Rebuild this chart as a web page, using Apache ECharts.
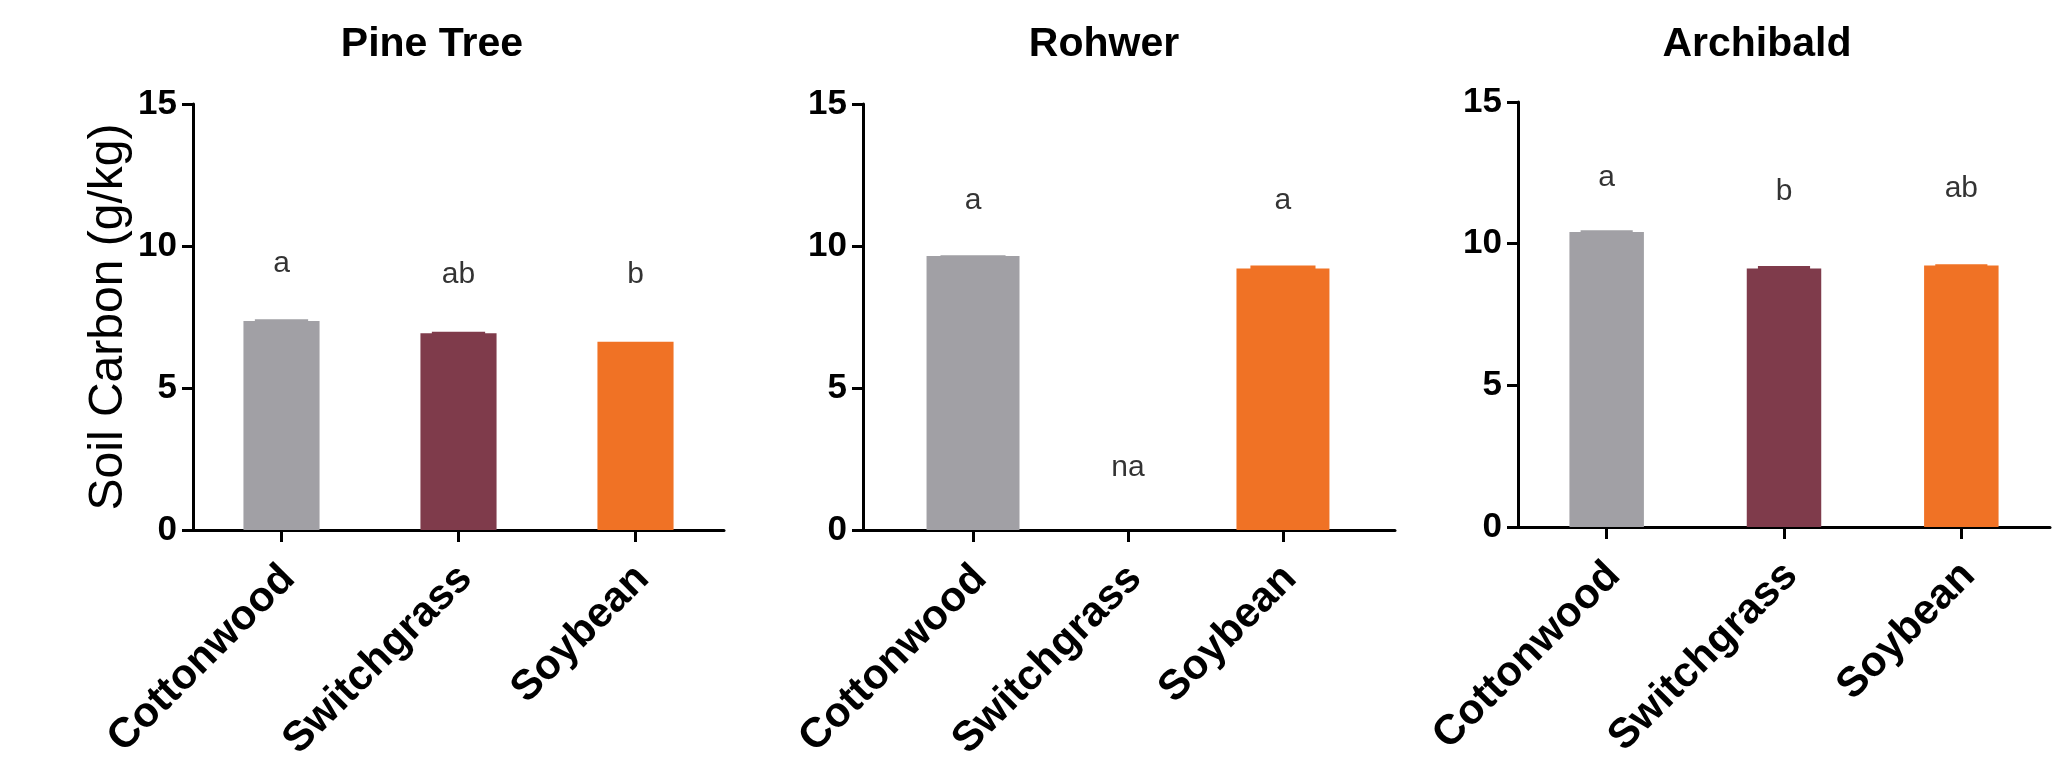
<!DOCTYPE html>
<html>
<head>
<meta charset="utf-8">
<script src="https://cdn.jsdelivr.net/npm/echarts@6/dist/echarts.min.js"></script>
<style>
html,body{margin:0;padding:0;background:#fff;}
#chart{width:2064px;height:766px;}
</style>
</head>
<body>
<div id="chart"></div>
<script>
// ---- data ----
const categories = ['Cottonwood', 'Switchgrass', 'Soybean'];
const siteNames = ['Pine Tree', 'Rohwer', 'Archibald'];
const yAxisTitle = 'Soil Carbon (g/kg)';
const yTickLabels = ['0', '5', '10', '15'];

const pineTreeValues = [7.36, 6.93, 6.63];
const pineTreeErr = [0.06, 0.05, 0];
const pineTreeLetters = ['a', 'ab', 'b'];
const pineTreeLetterY = [9.36, 8.98, 8.98];

const rohwerValues = [9.65, null, 9.21];
const rohwerErr = [0.02, null, 0.1];
const rohwerLetters = ['a', 'na', 'a'];
const rohwerLetterY = [11.58, 2.19, 11.58];

const archibaldValues = [10.41, 9.12, 9.23];
const archibaldErr = [0.06, 0.09, 0.04];
const archibaldLetters = ['a', 'b', 'ab'];
const archibaldLetterY = [12.32, 11.82, 11.94];

// ---- styling / layout ----
const barColors = ['#A1A0A5', '#7F3B4B', '#F07225'];
const FONT = "'Liberation Sans', Arial, sans-serif";
const panels = [
  { values: pineTreeValues, err: pineTreeErr, letters: pineTreeLetters, letterY: pineTreeLetterY,
    grid: { left: 193, top: 104, width: 531, height: 426 }, xMin: -0.5, xMax: 2.5, barPct: 0.43, titleX: 427 },
  { values: rohwerValues, err: rohwerErr, letters: rohwerLetters, letterY: rohwerLetterY,
    grid: { left: 863, top: 104, width: 532, height: 426 }, xMin: -0.71, xMax: 2.723, barPct: 0.60, titleX: 1099 },
  { values: archibaldValues, err: archibaldErr, letters: archibaldLetters, letterY: archibaldLetterY,
    grid: { left: 1518, top: 102, width: 532, height: 425 }, xMin: -0.5, xMax: 2.5, barPct: 0.42, titleX: 1752 }
];

const catIdx = categories.map((c, i) => i);
const option = {
  backgroundColor: '#fff',
  animation: false,
  title: panels.map((p, k) => ({
    text: siteNames[k],
    left: p.titleX, top: 19, textAlign: 'center',
    textStyle: { fontFamily: FONT, fontSize: 41, fontWeight: 'bold', color: '#000' }
  })),
  grid: panels.map(p => Object.assign({ containLabel: false, outerBoundsMode: 'none' }, p.grid)),
  xAxis: panels.map((p, k) => ({
    type: 'value', gridIndex: k, min: p.xMin, max: p.xMax,
    splitLine: { show: false },
    axisLine: { show: true, onZero: false, lineStyle: { color: '#000', width: 3 } },
    axisTick: { show: true, customValues: catIdx, length: 12, lineStyle: { color: '#000', width: 3 } },
    axisLabel: {
      show: true, customValues: catIdx, rotate: 45, margin: 35,
      verticalAlign: 'top', lineHeight: 20,
      formatter: v => categories[Math.round(v)],
      fontFamily: FONT, fontSize: 42, fontWeight: 'bold', color: '#000'
    }
  })),
  yAxis: panels.map((p, k) => ({
    type: 'value', gridIndex: k, min: 0, max: 15, interval: 5,
    name: k === 0 ? yAxisTitle : '',
    nameLocation: 'middle', nameGap: 60, nameRotate: 90,
    nameTextStyle: { fontFamily: FONT, fontSize: 48, fontWeight: 'normal', color: '#000' },
    splitLine: { show: false },
    axisLine: { show: true, onZero: false, lineStyle: { color: '#000', width: 3 } },
    axisTick: { show: true, length: 11, lineStyle: { color: '#000', width: 3 } },
    axisLabel: {
      margin: 16, fontFamily: FONT, fontSize: 35, fontWeight: 'bold', color: '#000',
      formatter: v => yTickLabels[Math.round(v / 5)]
    }
  })),
  series: []
};

panels.forEach((p, k) => {
  option.series.push({
    type: 'bar', xAxisIndex: k, yAxisIndex: k,
    barWidth: (p.barPct * 100) + '%',
    data: p.values.map((v, i) => ({
      value: [i, v == null ? '-' : v],
      itemStyle: { color: barColors[i] }
    })),
    z: 3
  });
  option.series.push({
    type: 'custom', xAxisIndex: k, yAxisIndex: k, z: 4,
    data: p.values.map((v, i) => [i, v == null ? '-' : v, p.err[i] == null ? 0 : p.err[i]]),
    renderItem: (params, api) => {
      const x = api.value(0), m = api.value(1), e = api.value(2);
      if (isNaN(m) || !e) return null;
      const top = api.coord([x, m + e]);
      const base = api.coord([x, m]);
      const w = api.size([1, 0])[0] * p.barPct * 0.7;
      return {
        type: 'rect',
        shape: { x: top[0] - w / 2, y: top[1], width: w, height: base[1] - top[1] + 1 },
        style: { fill: barColors[params.dataIndex] }
      };
    }
  });
  option.series.push({
    type: 'scatter', xAxisIndex: k, yAxisIndex: k, z: 5,
    symbolSize: 1, itemStyle: { color: 'rgba(0,0,0,0)' },
    data: p.letterY.map((y, i) => [i, y]),
    label: {
      show: true, position: 'inside',
      formatter: params => p.letters[params.dataIndex],
      fontFamily: FONT, fontSize: 30, fontWeight: 'normal', color: '#000'
    }
  });
});

const chart = echarts.init(document.getElementById('chart'), null, { renderer: 'canvas' });
chart.setOption(option);
</script>
</body>
</html>
